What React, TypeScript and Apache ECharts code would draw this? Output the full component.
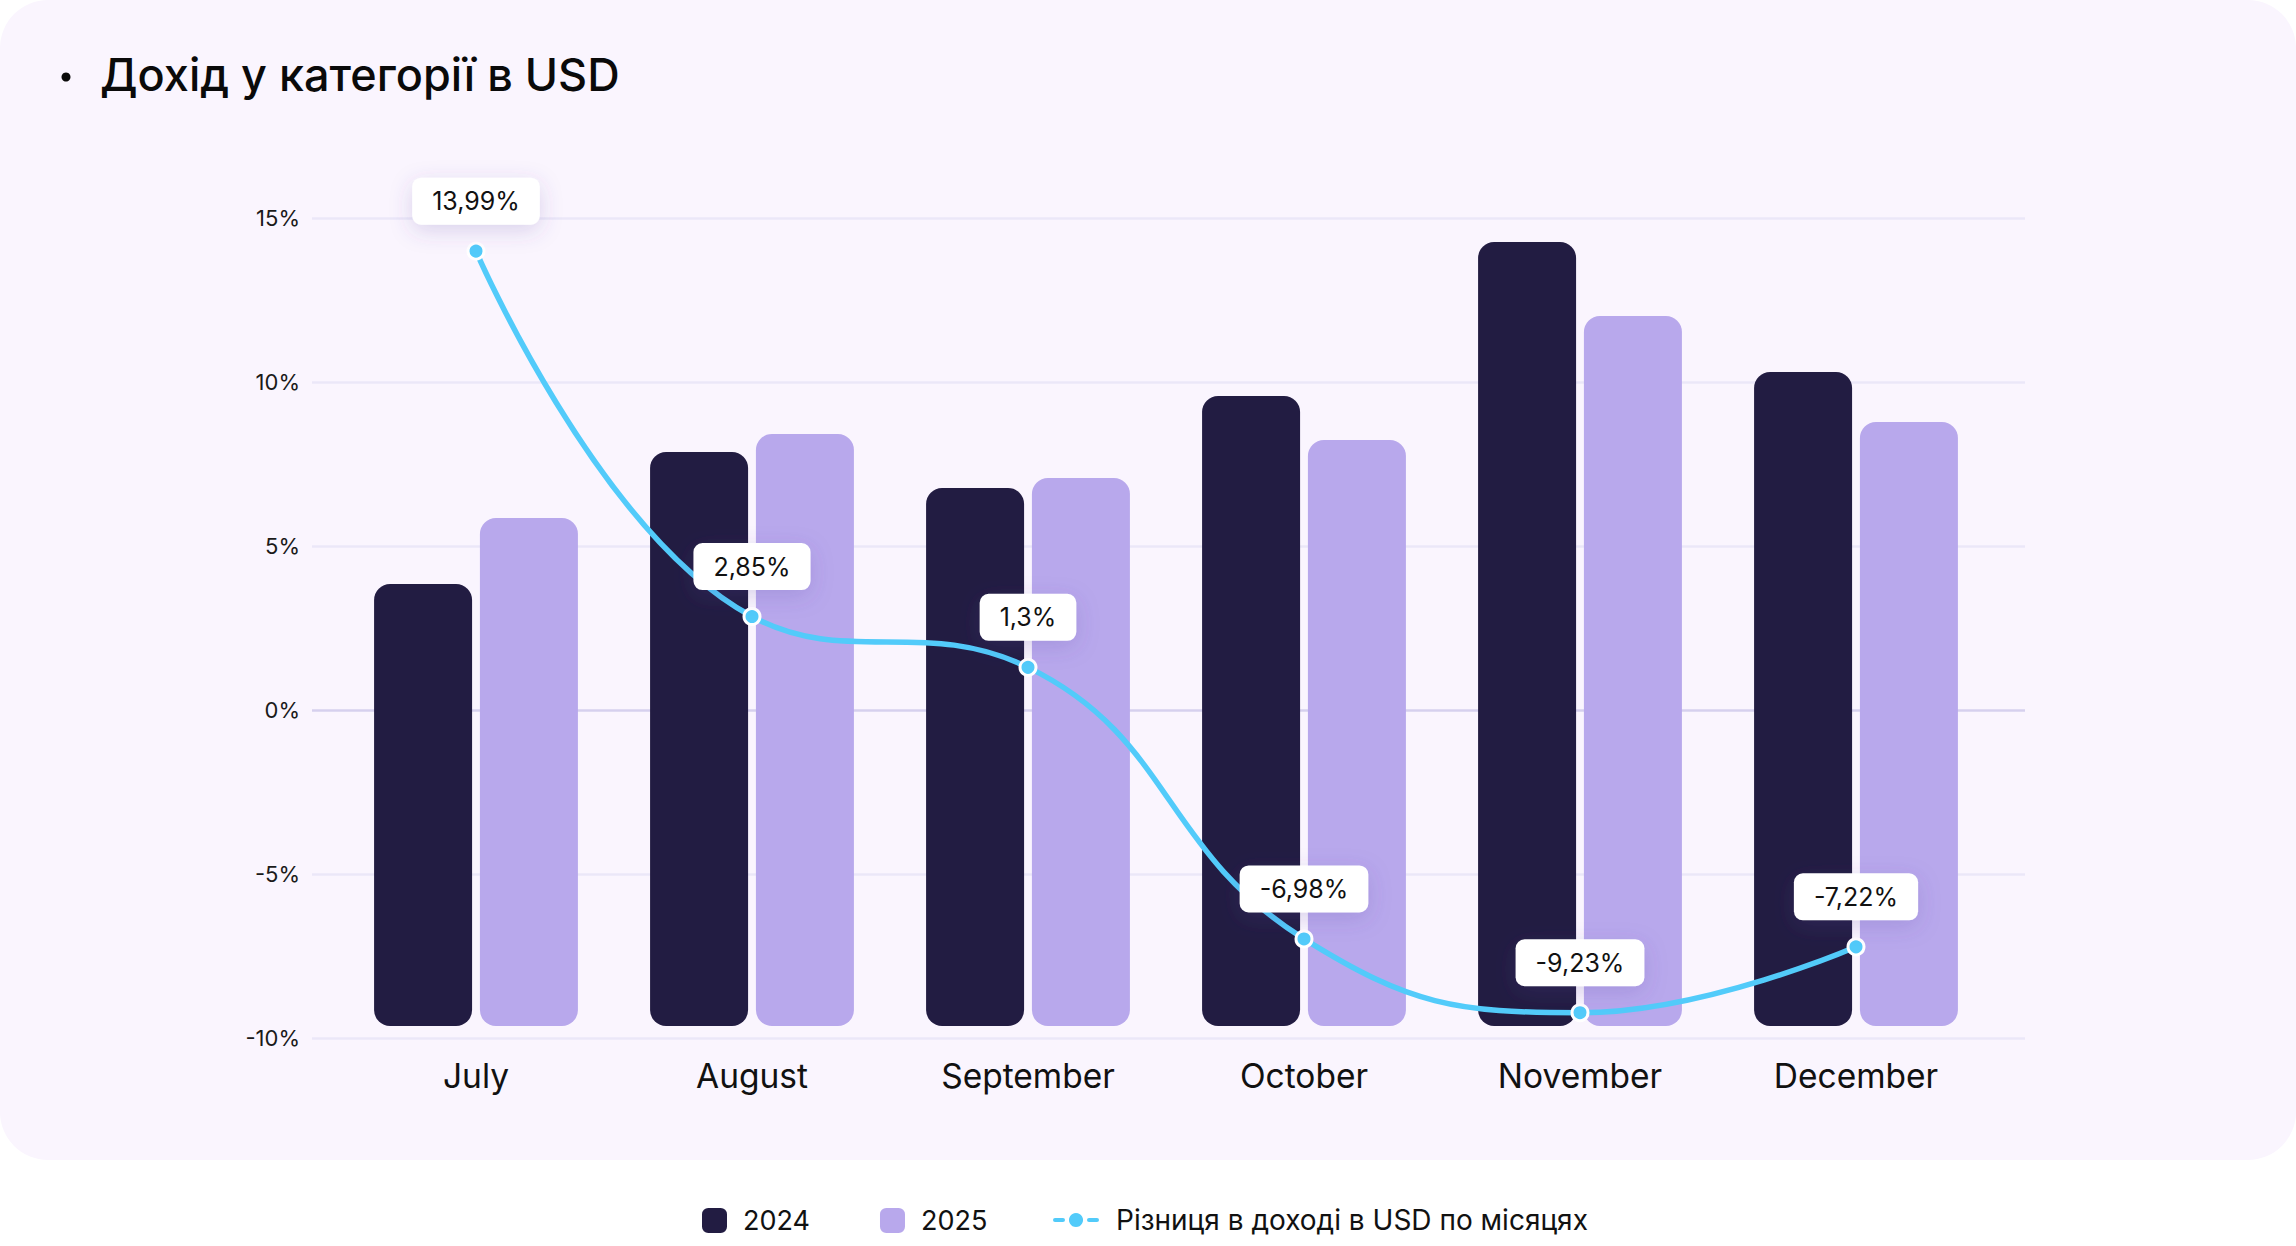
import React, { useEffect, useRef } from "react";
import * as echarts from "echarts";

const months = ["July", "August", "September", "October", "November", "December"];
const revenue2024 = [44.2, 57.4, 53.8, 63.0, 78.4, 65.4];
const revenue2025 = [50.8, 59.2, 54.8, 58.6, 71.0, 60.4];
const diffPct = [13.99, 2.85, 1.3, -6.98, -9.23, -7.22];
const pctMin = -10;
const pctMax = 15;
const pctStep = 5;
const titleText = "Дохід у категорії в USD";
const lineName = "Різниця в доході в USD по місяцях";

const FONT = "Inter, 'Noto Sans', sans-serif";
const LINE_ICON =
  "path://M3,5 H11 A3,3 0 0 1 11,11 H3 A3,3 0 0 1 3,5 Z M24,0 A8,8 0 1 1 23.99,0 Z M37,5 H45 A3,3 0 0 1 45,11 H37 A3,3 0 0 1 37,5 Z";

export default function App() {
  const ref = useRef<HTMLDivElement>(null);
  useEffect(() => {
    if (!ref.current) return;
    const chart = echarts.init(ref.current, null, { renderer: "svg" });
    const gridLineColors = ["#ebe7f8", "#ebe7f8", "#d6d0ee", "#ebe7f8", "#ebe7f8", "#ebe7f8"];
    chart.setOption({
      animation: false,
      textStyle: { fontFamily: FONT },
      graphic: [
        { type: "circle", shape: { cx: 66, cy: 77, r: 4.5 }, style: { fill: "#0a0a0a" } },
        {
          type: "text",
          x: 100,
          y: 74,
          style: {
            text: titleText,
            fill: "#0a0a0a",
            fontFamily: FONT,
            fontSize: 45,
            fontWeight: 500,
            textVerticalAlign: "middle",
          },
        },
      ],
      grid: [
        { left: 312, right: 271, top: 218, bottom: 208 },
        { left: 338, width: 1656, top: 218, bottom: 208 },
        { left: 338, width: 1656, top: 226, bottom: 220 },
      ],
      legend: [
        {
          data: ["2024", "2025"],
          left: 697,
          top: 1202,
          icon: "roundRect",
          itemWidth: 25,
          itemHeight: 25,
          itemGap: 70,
          textStyle: { fontSize: 27, color: "#111", fontFamily: FONT, padding: [0, 0, 0, 11] },
        },
        {
          data: [{ name: lineName, icon: LINE_ICON }],
          left: 1046,
          top: 1201,
          itemWidth: 48,
          itemHeight: 16,
          textStyle: { fontSize: 28, color: "#111", fontFamily: FONT, padding: [0, 0, 0, 11] },
        },
      ],
      xAxis: [
        { type: "value", gridIndex: 0, show: false, min: 0, max: 1 },
        {
          type: "category",
          gridIndex: 1,
          data: months,
          axisLine: { show: false },
          axisTick: { show: false },
          axisLabel: { fontSize: 33.5, color: "#111", margin: 21, fontFamily: FONT },
        },
        { type: "category", gridIndex: 2, data: months, show: false },
      ],
      yAxis: [
        {
          type: "value",
          gridIndex: 0,
          min: pctMin,
          max: pctMax,
          interval: pctStep,
          axisLine: { show: false },
          axisTick: { show: false },
          axisLabel: { formatter: "{value}%", fontSize: 22, color: "#1a1a1a", margin: 12, fontFamily: FONT },
          splitLine: { lineStyle: { color: gridLineColors, width: 2.5 } },
        },
        { type: "value", gridIndex: 1, min: pctMin, max: pctMax, show: false },
        { type: "value", gridIndex: 2, min: 0, max: 80, show: false },
      ],
      series: [
        {
          name: "2024",
          type: "bar",
          xAxisIndex: 2,
          yAxisIndex: 2,
          data: revenue2024,
          barWidth: 98,
          barGap: "8%",
          itemStyle: { color: "#221c42", borderRadius: 16 },
        },
        {
          name: "2025",
          type: "bar",
          xAxisIndex: 2,
          yAxisIndex: 2,
          data: revenue2025,
          barWidth: 98,
          barGap: "8%",
          itemStyle: { color: "#b8a8ec", borderRadius: 16 },
        },
        {
          name: lineName,
          type: "line",
          xAxisIndex: 1,
          yAxisIndex: 1,
          data: diffPct,
          smooth: 0.45,
          z: 5,
          symbol: "circle",
          symbolSize: 16,
          lineStyle: { color: "#52cbfa", width: 5.5 },
          itemStyle: { color: "#52cbfa", borderColor: "#ffffff", borderWidth: 3 },
          label: {
            show: true,
            position: "top",
            distance: 17,
            formatter: (p: any) => String(p.value).replace(".", ",") + "%",
            fontSize: 25,
            lineHeight: 27,
            color: "#111",
            fontFamily: FONT,
            backgroundColor: "#ffffff",
            borderRadius: 9,
            padding: [10, 20],
            shadowColor: "rgba(90, 70, 160, 0.2)",
            shadowBlur: 22,
            shadowOffsetY: 6,
          },
        },
      ],
    });
    return () => chart.dispose();
  }, []);
  return (
    <div style={{ position: "fixed", left: 0, top: 0, width: 2296, height: 1246, background: "#ffffff" }}>
      <div
        style={{
          position: "absolute",
          left: 0,
          top: 0,
          width: 2296,
          height: 1160,
          background: "#faf5fe",
          borderRadius: 48,
        }}
      />
      <div ref={ref} style={{ position: "absolute", left: 0, top: 0, width: 2296, height: 1246 }} />
    </div>
  );
}
